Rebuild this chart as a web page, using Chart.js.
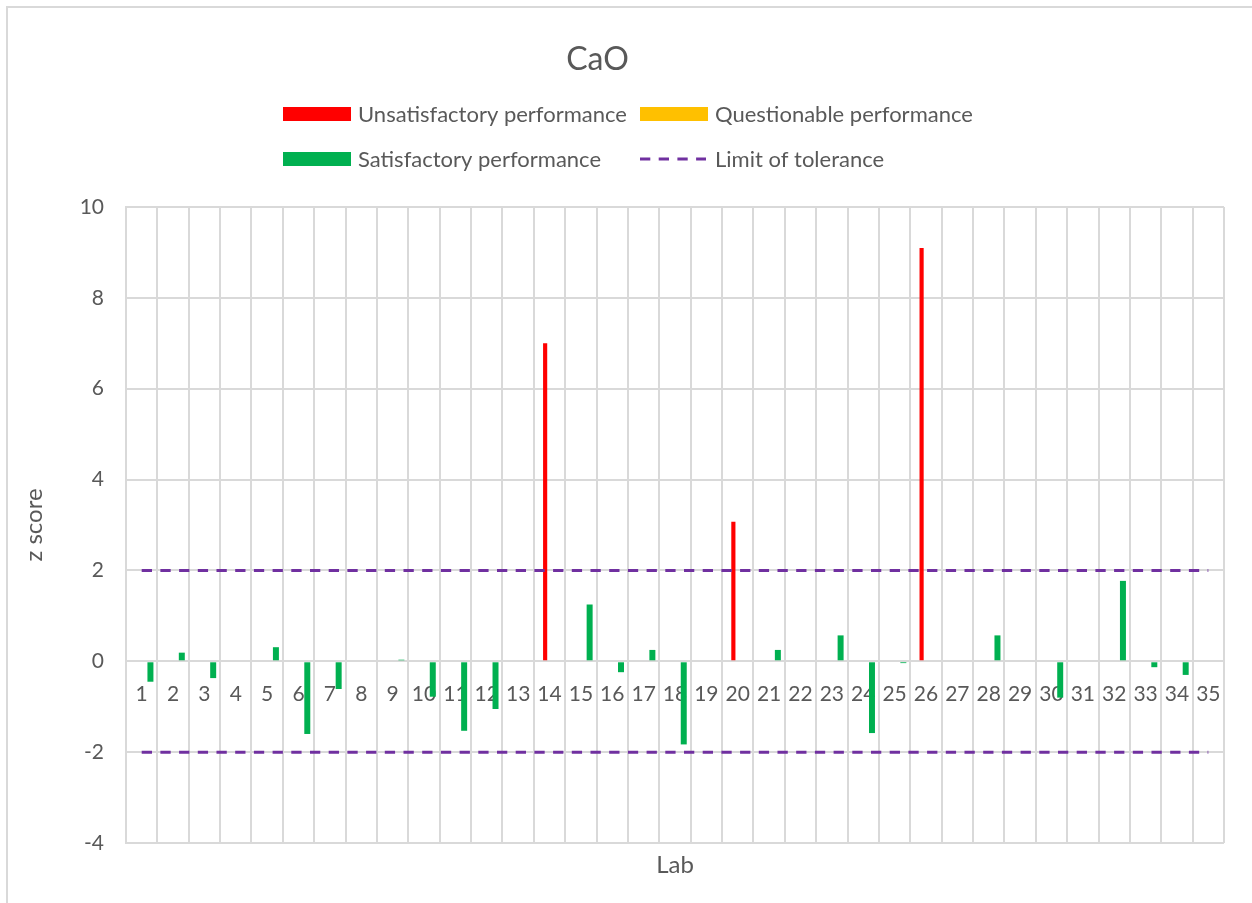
<!DOCTYPE html>
<html>
<head>
<meta charset="utf-8">
<script src="https://cdn.jsdelivr.net/npm/chart.js@4.4.0/dist/chart.umd.min.js"></script>
<style>
  html, body { margin: 0; padding: 0; background: #ffffff; overflow: hidden; }
  #wrap { position: absolute; left: 0; top: 0; width: 1252px; height: 903px; }
  #frame { position: absolute; left: 6px; top: 6px; width: 1400px; height: 1100px;
           border-left: 2px solid #d9d9d9; border-top: 2px solid #d9d9d9; pointer-events: none; }
</style>
</head>
<body>
<div id="wrap"><canvas id="c"></canvas></div>
<div id="frame"></div>
<script>
// ---- data ----
const chartTitle = 'CaO';
const xTitle = 'Lab';
const yTitle = 'z score';
const labs = ['1','2','3','4','5','6','7','8','9','10','11','12','13','14','15','16','17','18','19','20',
              '21','22','23','24','25','26','27','28','29','30','31','32','33','34','35'];
const unsatisfactory = [null,null,null,null,null,null,null,null,null,null,null,null,null,7.0,null,null,null,null,null,3.07,
                        null,null,null,null,null,9.1,null,null,null,null,null,null,null,null,null];
const questionable = [null,null,null,null,null,null,null,null,null,null,null,null,null,null,null,null,null,null,null,null,
                      null,null,null,null,null,null,null,null,null,null,null,null,null,null,null];
const satisfactory = [-0.45,0.19,-0.37,null,0.31,-1.6,-0.61,null,0.035,-0.78,-1.53,-1.05,null,null,1.25,-0.24,0.25,-1.83,null,null,
                      0.25,null,0.57,-1.58,-0.04,null,null,0.57,null,-0.8,null,1.77,-0.13,-0.3,null];
const toleranceLimit = 2;
const yTicks = [-4, -2, 0, 2, 4, 6, 8, 10];
const seriesNames = ['Unsatisfactory performance', 'Questionable performance', 'Satisfactory performance', 'Limit of tolerance'];

// ---- styles ----
const RED = '#FF0000', YELLOW = '#FFC000', GREEN = '#00B050', PURPLE = '#7030A0';
const GRID = '#d9d9d9', TEXT = '#595959';
const FONT = 'Lato';
const DASH = [10.3, 8.4];

Chart.defaults.font.family = FONT;
Chart.defaults.color = TEXT;

const firstLab = labs[0], lastLab = labs[labs.length - 1];

const decorPlugin = {
  id: 'decor',
  afterDraw(chart) {
    const ctx = chart.ctx;
    ctx.save();
    // title
    ctx.fillStyle = TEXT;
    ctx.font = '32px ' + FONT;
    ctx.textAlign = 'center';
    ctx.textBaseline = 'middle';
    ctx.fillText(chartTitle, 597.5, 59.5);
    // legend
    const items = [
      {text: seriesNames[0], kind: 'box', color: RED, x: 283, y: 114},
      {text: seriesNames[1], kind: 'box', color: YELLOW, x: 640, y: 114},
      {text: seriesNames[2], kind: 'box', color: GREEN, x: 283, y: 159},
      {text: seriesNames[3], kind: 'dash', color: PURPLE, x: 640, y: 159}
    ];
    ctx.font = '22px ' + FONT;
    ctx.textAlign = 'left';
    items.forEach(it => {
      if (it.kind === 'box') {
        ctx.fillStyle = it.color;
        ctx.fillRect(it.x, it.y - 7, 68, 14);
      } else {
        ctx.strokeStyle = it.color;
        ctx.lineWidth = 3;
        ctx.setLineDash(DASH);
        ctx.beginPath();
        ctx.moveTo(it.x, it.y);
        ctx.lineTo(it.x + 66, it.y);
        ctx.stroke();
        ctx.setLineDash([]);
      }
      ctx.fillStyle = TEXT;
      ctx.fillText(it.text, it.x + 75, it.y + 1);
    });
    ctx.restore();
  }
};

const ctx = document.getElementById('c').getContext('2d');
new Chart(ctx, {
  type: 'bar',
  data: {
    labels: labs,
    datasets: [
      {label: '_pad0', data: [], stack: 's0', backgroundColor: 'rgba(0,0,0,0)', order: 2},
      {label: seriesNames[0], data: unsatisfactory, stack: 's1', backgroundColor: RED, barPercentage: 0.95, order: 2},
      {label: seriesNames[1], data: questionable, stack: 's2', backgroundColor: YELLOW, barPercentage: 0.95, order: 2},
      {label: '_pad3', data: [], stack: 's3', backgroundColor: 'rgba(0,0,0,0)', order: 2},
      {label: seriesNames[2], data: satisfactory, stack: 's4', backgroundColor: GREEN, barPercentage: 1.37, order: 2},
      {type: 'line', label: seriesNames[3], data: [{x: firstLab, y: toleranceLimit}, {x: lastLab, y: toleranceLimit}],
       borderColor: PURPLE, borderWidth: 3, borderDash: DASH, pointRadius: 0, fill: false, order: 0},
      {type: 'line', label: seriesNames[3] + ' (lower)', data: [{x: firstLab, y: -toleranceLimit}, {x: lastLab, y: -toleranceLimit}],
       borderColor: PURPLE, borderWidth: 3, borderDash: DASH, pointRadius: 0, fill: false, order: 0}
    ]
  },
  options: {
    responsive: true,
    maintainAspectRatio: false,
    animation: false,
    events: [],
    layout: { padding: { top: 207, right: 28, bottom: 0, left: 0 } },
    datasets: { bar: { categoryPercentage: 0.697, borderWidth: 0 } },
    plugins: {
      legend: { display: false },
      title: { display: false },
      tooltip: { enabled: false }
    },
    scales: {
      x: {
        type: 'category',
        position: { y: 0 },
        offset: true,
        grid: { display: true, color: GRID, lineWidth: 2, offset: true, drawTicks: false },
        border: { display: true, color: GRID, width: 2 },
        ticks: { font: { size: 21 }, color: TEXT, padding: 20, maxRotation: 0, autoSkip: false },
        afterFit(scale) { scale.height = 0; }
      },
      x2: {
        type: 'category',
        position: 'bottom',
        labels: labs,
        offset: true,
        grid: { display: false, drawTicks: false },
        border: { display: false },
        ticks: { display: false },
        title: { display: true, text: xTitle, color: TEXT, font: { size: 24 }, padding: { top: 0, bottom: 23 } },
        afterFit(scale) { scale.height = 60; }
      },
      y: {
        type: 'linear',
        position: 'left',
        min: yTicks[0],
        max: yTicks[yTicks.length - 1],
        afterBuildTicks(scale) { scale.ticks = yTicks.map(v => ({value: v})); },
        grid: { color: GRID, lineWidth: 2, drawTicks: false },
        border: { display: true, color: GRID, width: 2 },
        ticks: { font: { size: 21 }, color: TEXT, padding: 22 },
        title: { display: true, text: yTitle, color: TEXT, font: { size: 24 }, padding: { top: 20, bottom: 0 } },
        afterFit(scale) { scale.width = 126; }
      }
    }
  },
  plugins: [decorPlugin]
});
</script>
</body>
</html>
